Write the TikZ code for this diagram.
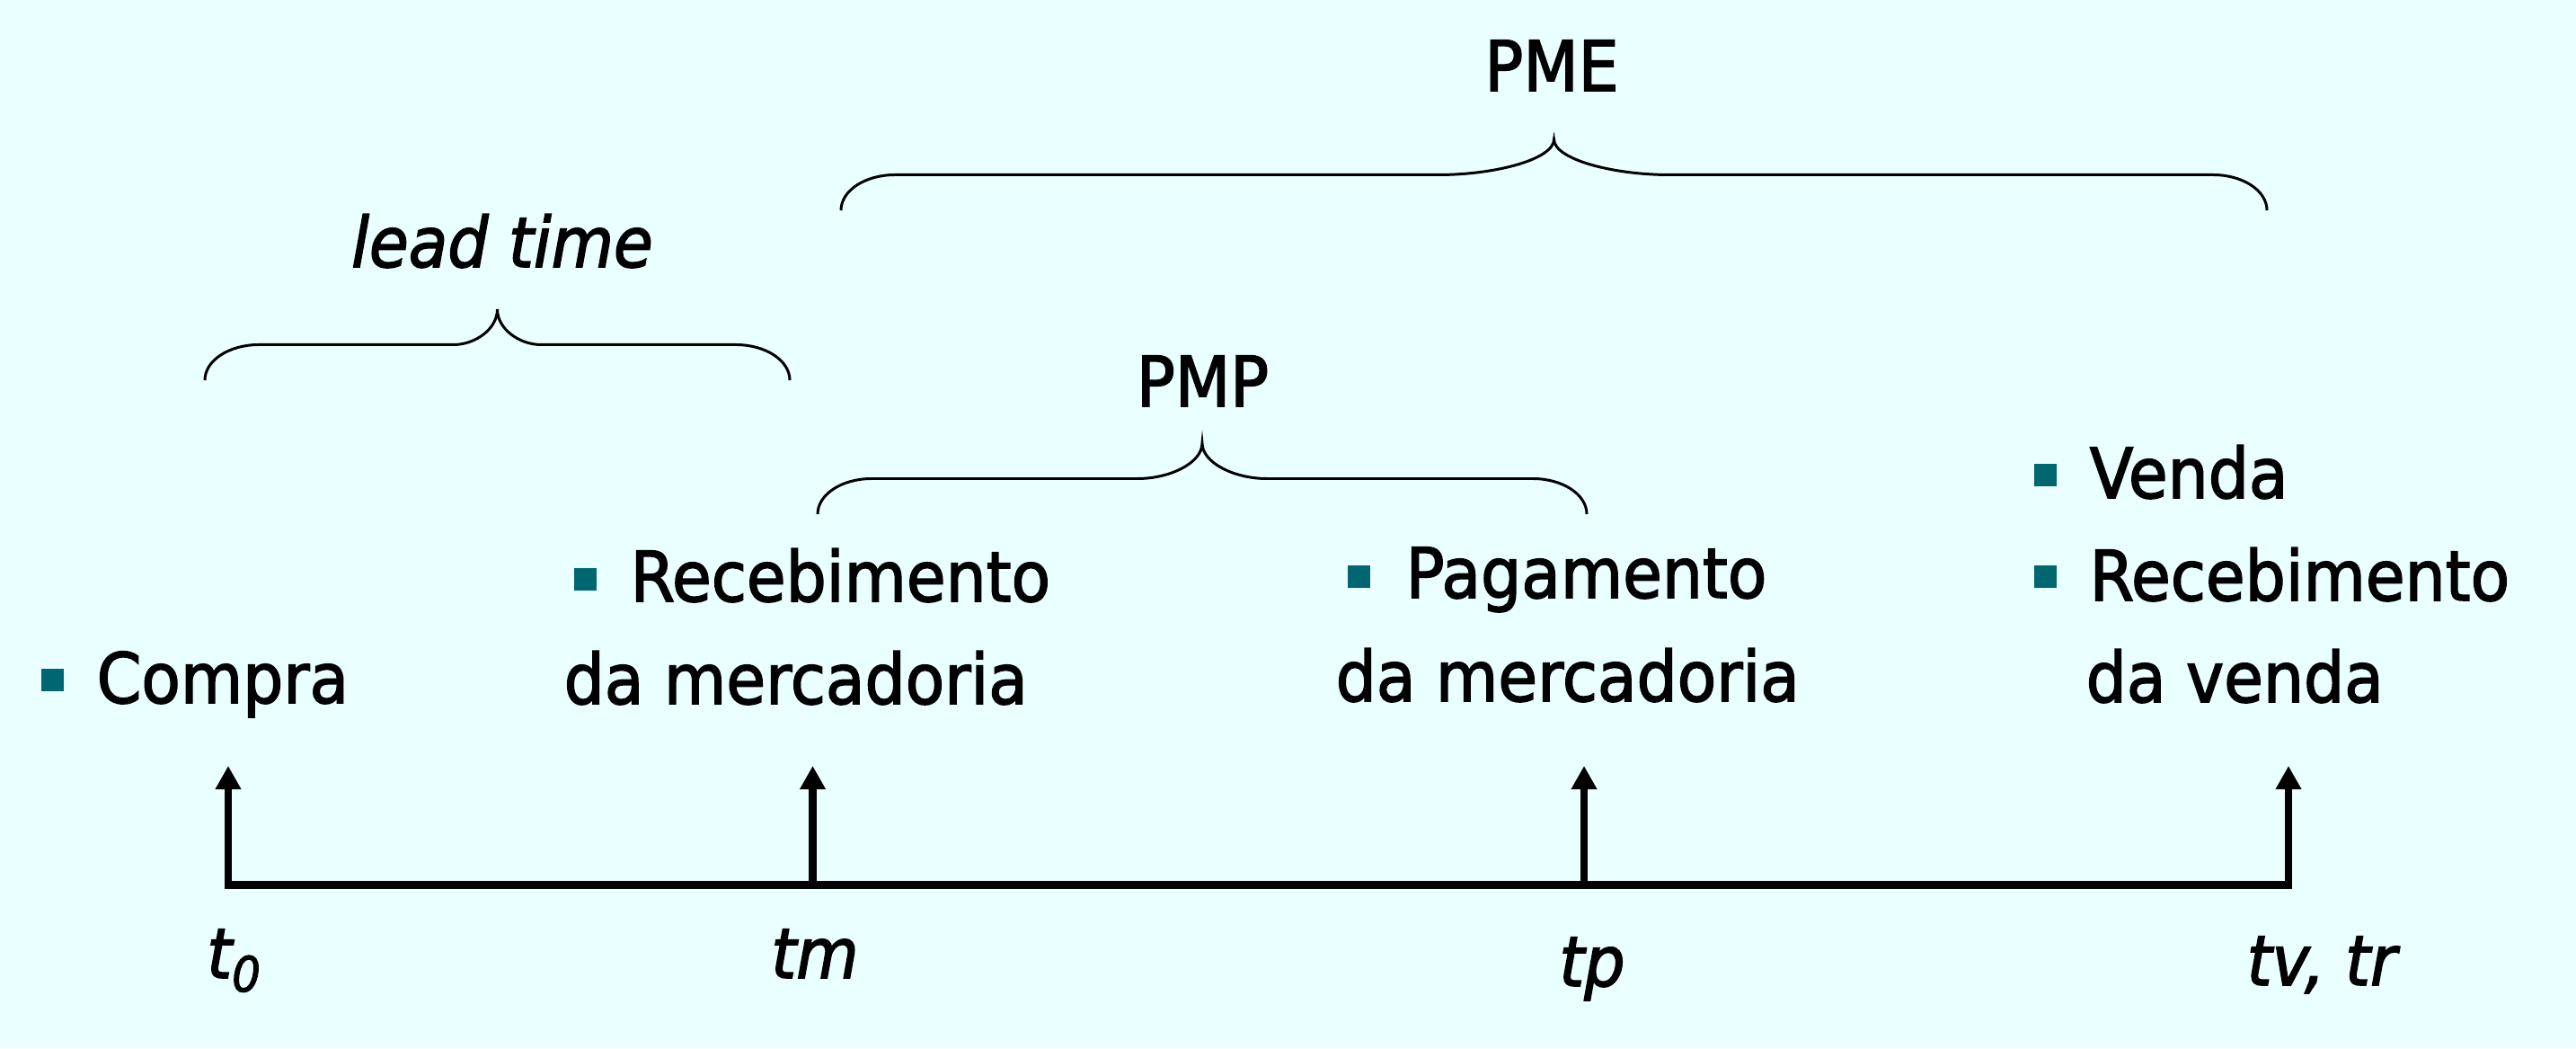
\documentclass[tikz,border=0pt]{standalone}
\usepackage{fontspec}
\setmainfont{DejaVu Sans}[FakeStretch=0.92,FakeBold=2]
\usetikzlibrary{arrows.meta}
\definecolor{slidebg}{RGB}{234,255,255}
\definecolor{bulletteal}{RGB}{0,102,112}

\begin{document}
\begin{tikzpicture}
 \tikzset{event text/.style={
    anchor=base west,
    inner sep=0pt,
    font=\fontsize{22}{26}\selectfont
  },
  period label/.style={event text, anchor=base},
  time label/.style={period label, font=\fontsize{22}{26}\selectfont\itshape},
  bullet/.style={fill=bulletteal, minimum size=0.25cm, inner sep=0pt},
  timeline/.style={line width=2.5pt, line cap=rect},
  time arrow/.style={line width=2.5pt, -{Triangle[length=0.26cm,width=0.27cm]}},
  period/.style={line width=0.85pt}
}
\path[fill=slidebg] (0,0) rectangle (28.67,11.66);
\foreach \name/\x in {t0/2.54, tm/9.045, tp/17.63, tv/25.47} {
  \coordinate (\name) at (\x,1.815);
  \coordinate (\name top) at (\x,3.14);
}
\draw[timeline] (t0) -- (tv);
\foreach \name in {t0,tm,tp,tv}
  \draw[time arrow] (\name) -- (\name top);
\node[time label] (t0 label) at (2.61,0.78) {t\textsubscript{0}};
\node[time label] (tm label) at (9.07,0.78) {tm};
\node[time label] (tp label) at (17.72,0.69) {tp};
\node[time label] (tv label) at (25.84,0.70) {tv, tr};

\node[bullet] (compra bullet) at (0.58,4.09) {};
\node[event text] (compra) at (1.07,3.84) {Compra};
\node[bullet] (receb bullet) at (6.51,5.21) {};
\node[event text] (receb) at (7.01,4.97) {Recebimento};
\node[event text] (receb merc) at (6.27,3.83) {da mercadoria};
\node[bullet] (pag bullet) at (15.12,5.24) {};
\node[event text] (pag) at (15.64,5.01) {Pagamento};
\node[event text] (pag merc) at (14.86,3.86) {da mercadoria};
\node[bullet] (venda bullet) at (22.76,6.37) {};
\node[event text] (venda) at (23.25,6.12) {Venda};
\node[bullet] (rv bullet) at (22.76,5.24) {};
\node[event text] (rv) at (23.25,4.98) {Recebimento};
\node[event text] (rv venda) at (23.21,3.85) {da venda};

\foreach \xa/\xb/\yb/\w in {2.28/8.79/7.43/0.49, 9.10/17.66/5.94/0.72, 9.36/25.23/9.32/1.29} {
  \pgfmathsetmacro\xm{(\xa+\xb)/2}
  \draw[period] (\xa,\yb) .. controls (\xa,\yb+0.22) and (\xa+0.27,\yb+0.395) .. (\xa+0.6,\yb+0.395)
    -- (\xm-\w,\yb+0.395) .. controls (\xm-0.5*\w,\yb+0.395) and (\xm,\yb+0.57) .. (\xm,\yb+0.79)
    .. controls (\xm,\yb+0.57) and (\xm+0.5*\w,\yb+0.395) .. (\xm+\w,\yb+0.395)
    -- (\xb-0.6,\yb+0.395) .. controls (\xb-0.27,\yb+0.395) and (\xb,\yb+0.22) .. (\xb,\yb);
}
\node[period label] (lead) at (5.59,8.69) {\itshape lead time};
\node[period label] (pmp) at (13.385,7.14) {PMP};
\node[period label] (pme) at (17.27,10.65) {PME};
\end{tikzpicture}
\end{document}
